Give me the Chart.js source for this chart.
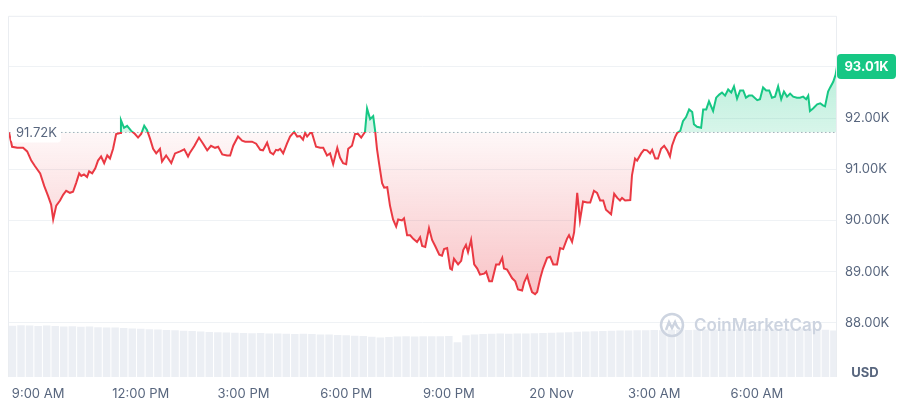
<!DOCTYPE html>
<html>
<head>
<meta charset="utf-8">
<title>BTC / USD 24h</title>
<script src="https://cdn.jsdelivr.net/npm/chart.js@4.4.1/dist/chart.umd.min.js"></script>
<style>
  html, body { margin: 0; padding: 0; background: #fff; }
  #wrap { width: 900px; height: 400px; position: relative; }
</style>
</head>
<body>
<div id="wrap"><canvas id="priceChart"></canvas></div>
<script>
// Waktu dalam jam sejak 19 Nov 00:00 (24 = 20 Nov 00:00)
const times = [
    8.15, 8.24, 8.39, 8.56, 8.68, 8.80, 8.91, 9.06, 9.18, 9.29, 9.38, 9.44, 9.53, 9.64, 9.73, 9.82, 9.93,
    10.02, 10.11, 10.20, 10.26, 10.34, 10.43, 10.49, 10.58, 10.67, 10.75, 10.84, 10.93, 11.02, 11.10, 11.19,
    11.28, 11.40, 11.42, 11.51, 11.60, 11.72, 11.83, 11.92, 12.01, 12.10, 12.18, 12.27, 12.36, 12.45, 12.56,
    12.62, 12.74, 12.80, 12.89, 13.00, 13.15, 13.27, 13.38, 13.44, 13.56, 13.70, 13.82, 13.94, 14.05, 14.17,
    14.26, 14.38, 14.52, 14.61, 14.70, 14.84, 14.96, 15.05, 15.25, 15.37, 15.49, 15.57, 15.69, 15.78, 15.87,
    15.95, 16.01, 16.07, 16.16, 16.27, 16.36, 16.48, 16.57, 16.65, 16.74, 16.80, 16.86, 16.95, 17.00, 17.12,
    17.24, 17.33, 17.44, 17.53, 17.62, 17.74, 17.82, 17.91, 18.00, 18.06, 18.17, 18.26, 18.35, 18.44, 18.49,
    18.55, 18.61, 18.70, 18.79, 18.85, 18.90, 18.96, 19.05, 19.11, 19.20, 19.28, 19.37, 19.46, 19.52, 19.63,
    19.69, 19.78, 19.87, 19.96, 20.07, 20.16, 20.22, 20.31, 20.42, 20.51, 20.60, 20.72, 20.80, 20.86, 20.95,
    21.04, 21.09, 21.15, 21.27, 21.36, 21.42, 21.50, 21.56, 21.65, 21.74, 21.83, 21.91, 22.03, 22.09, 22.18,
    22.26, 22.38, 22.47, 22.56, 22.61, 22.70, 22.85, 22.94, 23.02, 23.14, 23.20, 23.29, 23.34, 23.43, 23.52,
    23.58, 23.67, 23.75, 23.87, 23.96, 24.05, 24.16, 24.25, 24.34, 24.45, 24.51, 24.60, 24.66, 24.75, 24.83,
    24.92, 25.04, 25.13, 25.24, 25.33, 25.42, 25.51, 25.59, 25.74, 25.83, 25.92, 26.00, 26.06, 26.15, 26.30,
    26.35, 26.44, 26.50, 26.62, 26.70, 26.79, 26.88, 26.94, 27.03, 27.11, 27.20, 27.29, 27.38, 27.46, 27.52,
    27.61, 27.67, 27.76, 27.84, 27.93, 28.02, 28.11, 28.16, 28.25, 28.37, 28.43, 28.52, 28.60, 28.72, 28.81,
    28.90, 28.98, 29.07, 29.16, 29.25, 29.33, 29.42, 29.51, 29.60, 29.68, 29.77, 29.86, 30.01, 30.09, 30.18,
    30.27, 30.36, 30.44, 30.53, 30.62, 30.71, 30.79, 30.88, 30.97, 31.06, 31.17, 31.26, 31.35, 31.44, 31.50,
    31.55, 31.64, 31.76, 31.85, 31.93, 31.99, 32.08, 32.14, 32.23, 32.30, 32.34
];

// Harga BTC (USD)
const prices = [
    91720, 91440, 91420, 91420, 91350, 91170, 91060, 90920, 90670, 90480, 90310, 90020, 90290, 90390, 90500, 90580, 90540,
    90560, 90730, 90920, 90870, 90900, 90850, 90960, 90920, 91020, 91170, 91250, 91120, 91270, 91210, 91400,
    91690, 91710, 91960, 91810, 91850, 91750, 91690, 91620, 91690, 91850, 91770, 91600, 91400, 91310, 91400,
    91150, 91270, 91210, 91120, 91310, 91350, 91390, 91250, 91330, 91450, 91620, 91500, 91370, 91460, 91420,
    91440, 91290, 91270, 91270, 91460, 91640, 91560, 91540, 91540, 91500, 91380, 91370, 91520, 91330, 91290,
    91380, 91370, 91400, 91310, 91500, 91640, 91730, 91640, 91650, 91580, 91710, 91640, 91710, 91710, 91440,
    91420, 91420, 91270, 91310, 91100, 91420, 91230, 91120, 91100, 91400, 91460, 91690, 91690, 91620, 91670,
    91730, 92190, 91980, 92040, 91730, 91400, 91120, 90730, 90640, 90650, 90290, 90020, 89880, 90020, 90000,
    90040, 89710, 89710, 89640, 89580, 89670, 89500, 89480, 89850, 89620, 89500, 89330, 89310, 89440, 89460,
    89060, 89040, 89250, 89140, 89210, 89420, 89520, 89380, 89620, 89140, 89060, 88940, 88960, 89000, 88810,
    88810, 89140, 89140, 89270, 89060, 89040, 88870, 88810, 88650, 88630, 88790, 88920, 88790, 88600, 88560,
    88600, 88870, 89060, 89270, 89290, 89140, 89140, 89460, 89440, 89640, 89710, 89580, 89770, 90540, 90000,
    90370, 90350, 90350, 90580, 90540, 90390, 90390, 90210, 90120, 90520, 90440, 90390, 90440, 90390, 90400,
    90880, 91210, 91170, 91310, 91380, 91370, 91310, 91380, 91210, 91210, 91400, 91460, 91370, 91250, 91460,
    91630, 91710, 91750, 91940, 92020, 92170, 92120, 91880, 91830, 91810, 92170, 92170, 92330, 92140, 92400,
    92460, 92500, 92440, 92560, 92500, 92620, 92380, 92540, 92540, 92400, 92440, 92440, 92350, 92370, 92600,
    92540, 92540, 92400, 92420, 92620, 92370, 92520, 92420, 92480, 92420, 92400, 92400, 92420, 92370, 92440,
    92140, 92190, 92270, 92290, 92250, 92230, 92520, 92600, 92710, 92850, 93010
];

// Volume per 15 menit (miliar USD), mulai 8:15 AM
const volStart = 8.25;
const volStep = 0.25;
const volumes = [
    56.8, 57.4, 57.1, 56.6, 56.9, 56.4, 56.0, 56.2, 55.7, 55.9, 55.1, 54.8, 54.9, 54.2, 53.6, 53.4,
    52.9, 52.6, 52.0, 51.8, 51.2, 51.0, 50.3, 49.9, 49.6, 49.4, 49.0, 48.8, 48.5, 48.6, 48.2, 48.3,
    47.9, 47.6, 47.8, 47.5, 47.2, 47.0, 46.6, 46.2, 45.8, 45.3, 44.6, 43.8, 44.4, 44.9, 45.0, 44.8,
    45.1, 45.0, 45.2, 45.3, 38.5, 46.3, 47.0, 47.6, 47.9, 48.1, 48.0, 48.3, 48.2, 48.5, 48.7, 49.0,
    49.3, 49.6, 50.0, 50.4, 50.6, 51.0, 51.2, 51.5, 51.4, 51.7, 51.9, 52.1, 51.9, 52.2, 52.3, 52.1,
    52.4, 52.6, 52.5, 52.8, 52.9, 53.0, 53.2, 53.1, 53.4, 53.3, 53.5, 53.4, 53.6, 53.3, 53.2, 52.4, 51.5
];

const openPrice = 91720;
const lastPrice = 93010;

const xTicks = [9, 12, 15, 18, 21, 24, 27, 30];
const xTickLabels = ['9:00 AM', '12:00 PM', '3:00 PM', '6:00 PM', '9:00 PM', '20 Nov', '3:00 AM', '6:00 AM'];
const yTicks = [88000, 89000, 90000, 91000, 92000, 93000];

const GREEN = '#16c784';
const RED = '#ea3943';
const TEXT = '#58667e';
const GRID = '#eff2f5';
const FONT = 'Inter';

function formatK(v) {
    return (v / 1000).toFixed(2) + 'K';
}

// Garis: hijau di atas harga buka, merah di bawahnya
function lineGradient(chart) {
    const {ctx, chartArea, scales} = chart;
    if (!chartArea || !scales.y) return RED;
    const yb = scales.y.getPixelForValue(openPrice);
    let f = (yb - chartArea.top) / (chartArea.bottom - chartArea.top);
    f = Math.min(1, Math.max(0, f));
    const g = ctx.createLinearGradient(0, chartArea.top, 0, chartArea.bottom);
    g.addColorStop(0, GREEN);
    g.addColorStop(f, GREEN);
    g.addColorStop(f, RED);
    g.addColorStop(1, RED);
    return g;
}

function fillOption(chart) {
    const {ctx, chartArea, scales} = chart;
    if (!chartArea || !scales.y) {
        return {value: openPrice, above: 'rgba(22,199,132,0.25)', below: 'rgba(234,57,67,0.12)'};
    }
    const yb = scales.y.getPixelForValue(openPrice);
    const yHi = scales.y.getPixelForValue(Math.max(...prices));
    const yLo = scales.y.getPixelForValue(Math.min(...prices));
    const up = ctx.createLinearGradient(0, yHi, 0, yb);
    up.addColorStop(0, 'rgba(22,199,132,0.30)');
    up.addColorStop(1, 'rgba(22,199,132,0.17)');
    const down = ctx.createLinearGradient(0, yb, 0, yLo);
    down.addColorStop(0, 'rgba(234,57,67,0.04)');
    down.addColorStop(1, 'rgba(234,57,67,0.30)');
    return {value: openPrice, above: up, below: down};
}

function roundRect(ctx, x, y, w, h, r) {
    ctx.beginPath();
    ctx.moveTo(x + r, y);
    ctx.lineTo(x + w - r, y);
    ctx.quadraticCurveTo(x + w, y, x + w, y + r);
    ctx.lineTo(x + w, y + h - r);
    ctx.quadraticCurveTo(x + w, y + h, x + w - r, y + h);
    ctx.lineTo(x + r, y + h);
    ctx.quadraticCurveTo(x, y + h, x, y + h - r);
    ctx.lineTo(x, y + r);
    ctx.quadraticCurveTo(x, y, x + r, y);
    ctx.closePath();
}

// Bingkai, watermark, label harga buka, badge harga terakhir, USD
const overlay = {
    id: 'overlay',
    afterDatasetsDraw(chart) {
        const {ctx, chartArea} = chart;
        ctx.save();
        // watermark
        const cx = chartArea.right - 165;
        const cy = chartArea.bottom - 52;
        ctx.strokeStyle = '#cdd4e0';
        ctx.lineWidth = 2.5;
        ctx.beginPath();
        ctx.arc(cx, cy, 11, 0, Math.PI * 2);
        ctx.stroke();
        ctx.beginPath();
        ctx.moveTo(cx - 6, cy + 5);
        ctx.lineTo(cx - 3, cy - 3);
        ctx.lineTo(cx, cy + 3);
        ctx.lineTo(cx + 3, cy - 3);
        ctx.quadraticCurveTo(cx + 6, cy + 5, cx + 8, cy + 3);
        ctx.stroke();
        ctx.fillStyle = '#cdd4e0';
        ctx.font = '600 17px ' + FONT;
        ctx.textAlign = 'left';
        ctx.textBaseline = 'middle';
        ctx.fillText('CoinMarketCap', chartArea.right - 143, cy + 1);
        ctx.restore();
    },
    afterDraw(chart) {
        const {ctx, chartArea, scales} = chart;
        ctx.save();
        // bingkai kiri, atas, kanan
        ctx.strokeStyle = '#eaedf1';
        ctx.lineWidth = 1;
        ctx.beginPath();
        ctx.moveTo(chartArea.left + 0.5, chartArea.bottom);
        ctx.lineTo(chartArea.left + 0.5, chartArea.top + 0.5);
        ctx.lineTo(chartArea.right - 0.5, chartArea.top + 0.5);
        ctx.lineTo(chartArea.right - 0.5, chartArea.bottom);
        ctx.stroke();

        // label harga buka
        const yb = scales.y.getPixelForValue(openPrice);
        ctx.fillStyle = '#ffffff';
        roundRect(ctx, chartArea.left + 3, yb - 10, 50, 20, 4);
        ctx.fill();
        ctx.fillStyle = TEXT;
        ctx.font = '13px ' + FONT;
        ctx.textAlign = 'left';
        ctx.textBaseline = 'middle';
        ctx.fillText(formatK(openPrice), chartArea.left + 8, yb + 1);

        // badge harga terakhir
        const yl = scales.y.getPixelForValue(lastPrice);
        ctx.fillStyle = GREEN;
        roundRect(ctx, chartArea.right, yl - 12.5, 59, 25, 4);
        ctx.fill();
        ctx.fillStyle = '#ffffff';
        ctx.font = 'bold 13px ' + FONT;
        ctx.textAlign = 'center';
        ctx.fillText(formatK(lastPrice), chartArea.right + 29.5, yl + 1);

        // USD
        ctx.fillStyle = TEXT;
        ctx.font = 'bold 13px ' + FONT;
        ctx.fillText('USD', chartArea.right + 28, chartArea.bottom - 4);
        ctx.restore();
    }
};

const ctx = document.getElementById('priceChart').getContext('2d');

const chartInstance = new Chart(ctx, {
    type: 'line',
    data: {
        datasets: [
            {
                label: 'Price',
                data: times.map((t, i) => ({x: t, y: prices[i]})),
                borderColor: c => lineGradient(c.chart),
                borderWidth: 2,
                pointRadius: 0,
                tension: 0,
                fill: c => fillOption(c.chart),
                yAxisID: 'y',
                order: 1
            },
            {
                label: 'Open',
                data: [{x: times[0], y: openPrice}, {x: times[times.length - 1], y: openPrice}],
                borderColor: '#a6aebd',
                borderWidth: 1,
                borderDash: [1.5, 2.5],
                pointRadius: 0,
                fill: false,
                yAxisID: 'y',
                order: 2
            },
            {
                type: 'bar',
                label: 'Volume',
                data: volumes.map((v, i) => ({x: volStart + i * volStep, y: v})),
                backgroundColor: 'rgba(207,214,228,0.40)',
                borderWidth: 0,
                barPercentage: 1,
                categoryPercentage: 0.88,
                yAxisID: 'yVol',
                order: 3
            }
        ]
    },
    options: {
        responsive: true,
        maintainAspectRatio: false,
        animation: false,
        layout: { padding: { top: 9, left: 8, right: 0, bottom: 0 } },
        plugins: {
            legend: { display: false },
            tooltip: { enabled: false }
        },
        scales: {
            x: {
                type: 'linear',
                min: 8.12,
                max: 32.34,
                offset: false,
                grid: { display: false, drawTicks: false },
                border: { display: false },
                afterBuildTicks: scale => { scale.ticks = xTicks.map(v => ({value: v})); },
                afterFit: scale => { scale.height = 23; },
                ticks: {
                    autoSkip: false,
                    maxRotation: 0,
                    padding: 9,
                    color: TEXT,
                    font: { family: FONT, size: 13 },
                    callback: value => xTickLabels[xTicks.indexOf(value)]
                }
            },
            y: {
                position: 'right',
                min: 86940,
                max: 94000,
                grid: { color: GRID, drawTicks: false },
                border: { display: false },
                afterBuildTicks: scale => { scale.ticks = yTicks.map(v => ({value: v})); },
                afterFit: scale => { scale.width = 63; },
                ticks: {
                    padding: 8,
                    color: TEXT,
                    font: { family: FONT, size: 13 },
                    callback: value => formatK(value)
                }
            },
            yVol: {
                display: false,
                min: 0,
                max: 400
            }
        }
    },
    plugins: [overlay]
});
</script>
</body>
</html>
